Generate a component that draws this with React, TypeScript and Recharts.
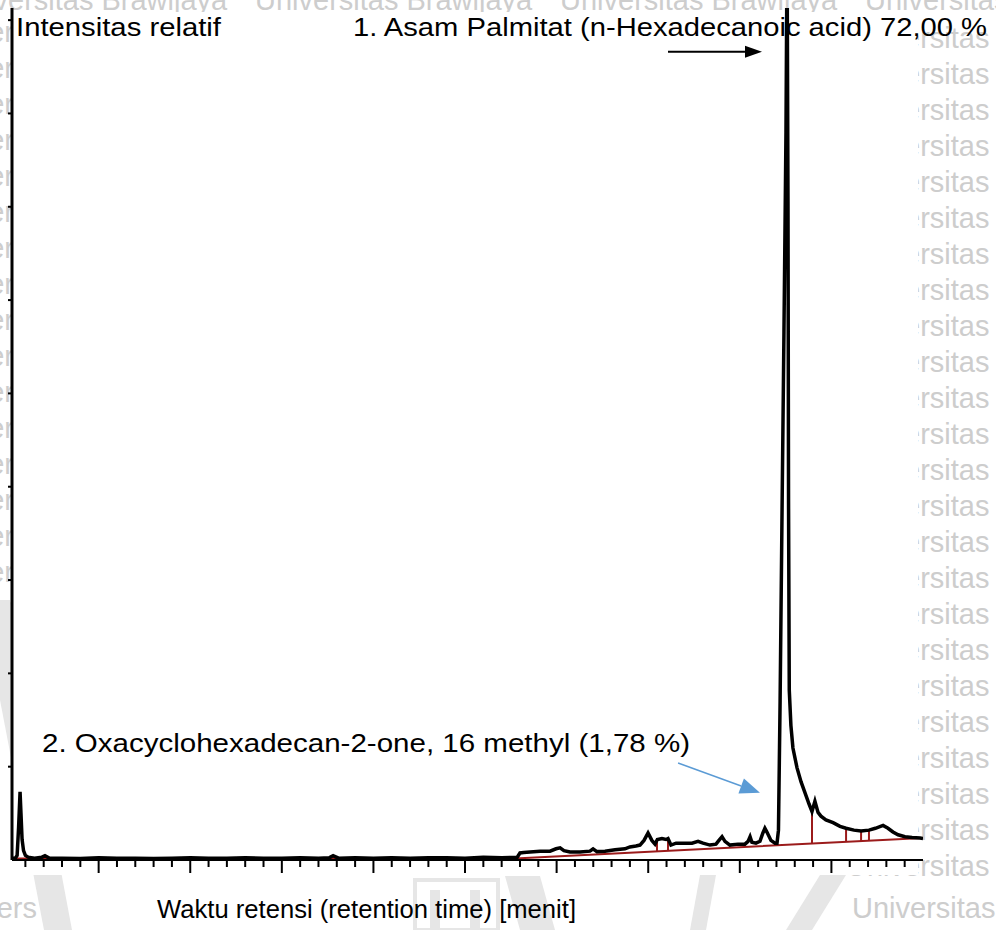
import { LineChart, Line, XAxis, YAxis, ReferenceLine } from 'recharts';

// retention time [min] vs relative intensity (1 unit = one y tick)
const signal: [number, number][] = [
  [0.27, 0.02], [0.45, 0.02], [0.55, 0.05], [0.63, 0.35], [0.71, 0.73], [0.76, 0.5], [0.82, 0.22],
  [0.9, 0.1], [1.0, 0.05], [1.15, 0.03], [1.5, 0.02], [1.9, 0.03], [2.07, 0.045], [2.3, 0.02],
  [3, 0.02], [4, 0.015], [5, 0.025], [6, 0.02], [7, 0.02], [8, 0.015], [9, 0.02], [10, 0.025],
  [11, 0.02], [12, 0.02], [13, 0.025], [14, 0.02], [15, 0.02], [16, 0.025], [17, 0.02],
  [17.6, 0.025], [17.8, 0.045], [18.1, 0.02], [19, 0.025], [20, 0.02], [21, 0.025], [22, 0.02],
  [23, 0.025], [24, 0.025], [25, 0.02], [26, 0.03], [27, 0.025], [27.85, 0.03],
  [28.0, 0.075], [28.2, 0.08], [28.55, 0.085], [29.1, 0.095], [29.64, 0.095], [29.97, 0.12],
  [30.19, 0.13], [30.4, 0.1], [30.73, 0.085], [31.28, 0.085], [31.82, 0.095], [31.99, 0.12],
  [32.2, 0.09], [32.64, 0.095], [33.19, 0.11], [33.73, 0.12], [34.0, 0.14], [34.33, 0.15],
  [34.55, 0.16], [34.77, 0.21], [34.99, 0.29], [35.2, 0.21], [35.37, 0.17], [35.5, 0.22],
  [35.75, 0.23], [35.97, 0.22], [36.08, 0.23], [36.24, 0.16], [36.52, 0.18], [37.0, 0.18],
  [37.39, 0.18], [37.72, 0.2], [37.99, 0.18], [38.37, 0.16], [38.7, 0.17], [38.86, 0.21],
  [39.03, 0.25], [39.19, 0.2], [39.46, 0.16], [39.9, 0.17], [40.28, 0.17], [40.45, 0.2],
  [40.56, 0.25], [40.66, 0.19], [40.88, 0.18], [41.1, 0.2], [41.26, 0.29], [41.37, 0.34],
  [41.48, 0.3], [41.7, 0.21], [41.92, 0.18], [42.03, 0.18], [42.11, 0.32], [42.2, 1.71],
  [42.3, 3.63], [42.41, 5.66], [42.52, 7.8], [42.58, 9.8], [42.63, 7.05], [42.66, 3.85],
  [42.7, 1.82], [42.79, 1.44], [42.9, 1.2], [43.12, 0.99], [43.34, 0.84], [43.56, 0.72],
  [43.78, 0.6], [43.94, 0.52], [44.1, 0.63], [44.27, 0.51], [44.43, 0.47], [44.7, 0.43],
  [45.09, 0.4], [45.47, 0.36], [45.8, 0.34], [46.23, 0.32], [46.62, 0.31], [47.05, 0.32],
  [47.4, 0.34], [47.82, 0.37], [48.09, 0.34], [48.36, 0.3], [48.64, 0.27], [49.02, 0.25],
  [49.4, 0.24], [49.84, 0.235], [50, 0.23],
];

// integration baseline
const baseline: [number, number][] = [[0.27, 0.015], [28, 0.02], [50, 0.235]];

// peak boundary drop lines: time, baseline level, signal level
const dropTimes = [35.48, 36.08, 42.03, 43.94, 45.8, 46.62, 47.05];
const dropFrom = [0.093, 0.099, 0.157, 0.176, 0.194, 0.202, 0.206];
const dropTo = [0.22, 0.23, 0.18, 0.52, 0.34, 0.31, 0.32];

const X_START = 0.27;
const X_END = 50;
const Y_MAX = 9.13;
const xTicks = Array.from({ length: 49 }, (_, i) => i + 1);
const yTicks = [1, 2, 3, 4, 5, 6, 7, 8, 9];

const signalData = signal.map(([t, v]) => ({ t, v }));
const baselineData = baseline.map(([t, v]) => ({ t, v }));

const FONT = '"Liberation Sans", Arial, sans-serif';
const WM = '#cdcdcd';
const RED = '#9b1b1b';

const XTick = (props: any) => {
  const { x, y, payload } = props;
  const len = payload.value % 5 === 0 ? 13 : 7;
  return <line x1={x} x2={x} y1={y} y2={y + len} stroke="#000" strokeWidth={2} />;
};

const arrowShape = (color: string, width: number, headLen: number, headHalf: number) => (props: any) => {
  const { x1, y1, x2, y2 } = props;
  const a = Math.atan2(y2 - y1, x2 - x1);
  const bx = x2 - headLen * Math.cos(a);
  const by = y2 - headLen * Math.sin(a);
  const nx = -Math.sin(a) * headHalf;
  const ny = Math.cos(a) * headHalf;
  return (
    <g>
      <line x1={x1} y1={y1} x2={bx} y2={by} stroke={color} strokeWidth={width} />
      <polygon points={`${x2},${y2} ${bx + nx},${by + ny} ${bx - nx},${by - ny}`} fill={color} />
    </g>
  );
};

const wmRows = Array.from({ length: 24 }, (_, i) => 48 + i * 36);

const Watermark = () => (
  <svg width={996} height={930} style={{ position: 'absolute', left: 0, top: 0 }}>
    <g fill={WM} fontFamily={FONT} fontSize={29}>
      {[-50, 255, 560, 865].map((x) => (
        <text key={x} x={x} y={10}>Universitas Brawijaya</text>
      ))}
      {wmRows.map((y) => (
        <text key={'r' + y} x={846} y={y}>Universitas</text>
      ))}
      {wmRows.slice(0, 18).map((y) => (
        <text key={'l' + y} x={14} y={y - 6} textAnchor="end">Univer</text>
      ))}
      <text x={37} y={918} textAnchor="end">Univers</text>
      <text x={852} y={918}>Universitas</text>
    </g>
    <g fill="#e6e6e6">
      <polygon points="0,600 10,600 72,930 44,930 0,700" />
      <polygon points="820,875 846,875 812,930 786,930" />
      <polygon points="700,875 716,875 706,930 690,930" />
      <polygon points="415,880 498,880 498,930 415,930" fill="none" stroke="#e6e6e6" strokeWidth={4} />
      <polygon points="430,890 440,890 440,930 430,930" />
      <polygon points="470,890 480,890 480,930 470,930" />
      <polygon points="505,876 540,876 555,930 520,930" />
    </g>
    <rect x={12} y={12} width={906} height={863} fill="#fff" />
  </svg>
);

const Labels = () => (
  <svg width={996} height={930} style={{ position: 'absolute', left: 0, top: 0, pointerEvents: 'none' }}>
    <g fill="#000" fontFamily={FONT} fontSize={25}>
      <text x={16} y={36} textLength={205} lengthAdjust="spacingAndGlyphs">Intensitas relatif</text>
      <text x={353} y={36} textLength={634} lengthAdjust="spacingAndGlyphs">
        1. Asam Palmitat (n-Hexadecanoic acid) 72,00 %
      </text>
      <text x={42} y={752} textLength={648} lengthAdjust="spacingAndGlyphs">
        2. Oxacyclohexadecan-2-one, 16 methyl (1,78 %)
      </text>
      <text x={157} y={918} textLength={419} lengthAdjust="spacingAndGlyphs">
        Waktu retensi (retention time) [menit]
      </text>
    </g>
  </svg>
);

export default function App() {
  return (
    <div style={{ position: 'relative', width: 996, height: 930, background: '#fff' }}>
      <style>{'body{margin:0}'}</style>
      <Watermark />
      <div style={{ position: 'absolute', left: 0, top: 0 }}>
        <LineChart width={996} height={930} margin={{ top: 8, right: 73, bottom: 0, left: 0 }}>
          <XAxis
            type="number"
            dataKey="t"
            domain={[X_START, X_END]}
            ticks={xTicks}
            interval={0}
            allowDataOverflow
            height={70}
            tickSize={0}
            tickMargin={0}
            tickLine={false}
            tick={XTick}
            axisLine={{ stroke: '#000', strokeWidth: 2 }}
          />
          <YAxis
            type="number"
            dataKey="v"
            domain={[0, Y_MAX]}
            ticks={yTicks}
            interval={0}
            allowDataOverflow
            width={12}
            tickSize={4}
            stroke="#000"
            tickLine={{ stroke: '#000', strokeWidth: 2 }}
            tick={() => <g />}
            axisLine={{ stroke: '#000', strokeWidth: 3 }}
          />
          <Line data={baselineData} dataKey="v" type="linear" stroke={RED} strokeWidth={2} dot={false} isAnimationActive={false} />
          {dropTimes.map((t, i) => (
            <ReferenceLine
              key={t}
              segment={[{ x: t, y: dropFrom[i] }, { x: t, y: dropTo[i] }]}
              stroke={RED}
              strokeWidth={2}
            />
          ))}
          <Line data={signalData} dataKey="v" type="linear" stroke="#000" strokeWidth={3.5} dot={false} isAnimationActive={false} />
          <ReferenceLine
            segment={[{ x: 36.08, y: 8.66 }, { x: 41.21, y: 8.66 }]}
            shape={arrowShape('#000', 2, 17, 6)}
          />
          <ReferenceLine
            segment={[{ x: 36.63, y: 1.04 }, { x: 41.1, y: 0.72 }]}
            shape={arrowShape('#5b9bd5', 1.5, 20, 8)}
          />
        </LineChart>
      </div>
      <Labels />
    </div>
  );
}
